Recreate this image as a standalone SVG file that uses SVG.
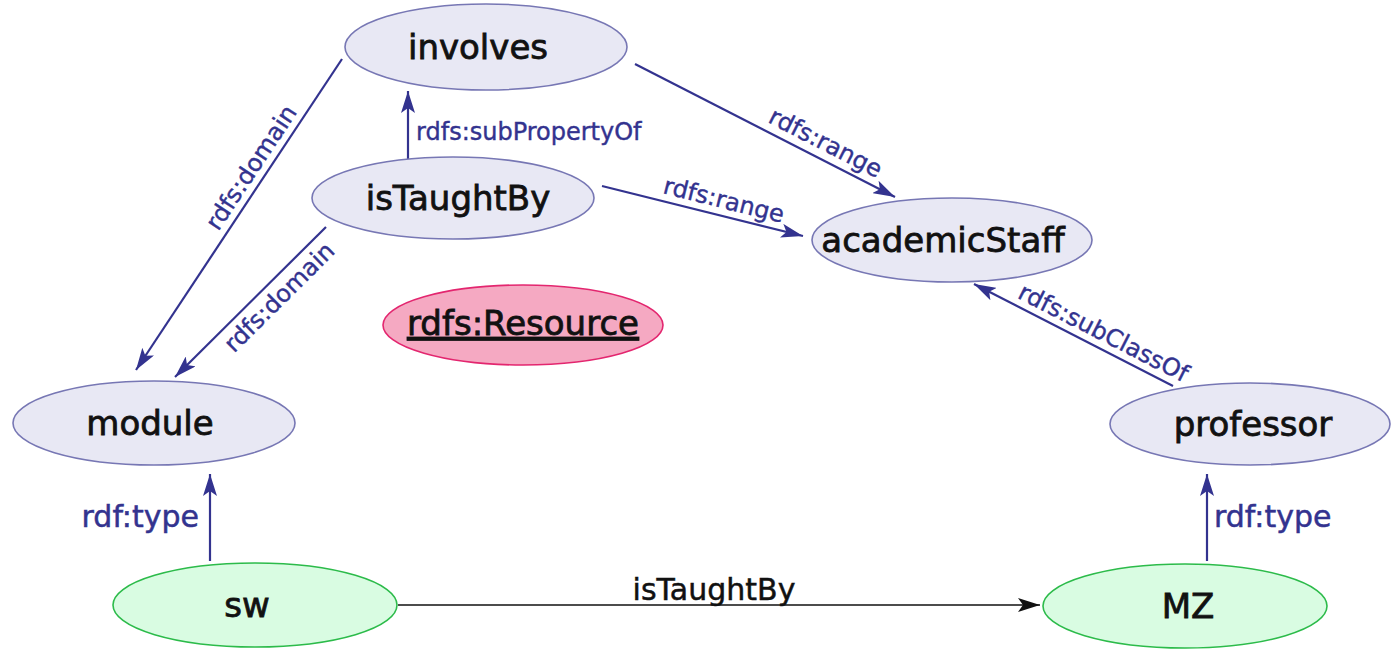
<svg xmlns="http://www.w3.org/2000/svg" width="1391" height="649" viewBox="0 0 1391 649">
  <style>
    .cls { fill: #e8e8f4; stroke: #7777b4; stroke-width: 1.6; }
    .inst { fill: #d9fce2; stroke: #2cbb4a; stroke-width: 1.6; }
    .res { fill: #f5a9c2; stroke: #e3266f; stroke-width: 1.6; }
    .nlabel { font-family: "DejaVu Sans", "Liberation Sans", sans-serif; font-size: 34px; fill: #111111; stroke: #111111; stroke-width: 0.8; text-anchor: middle; }
    .edge { stroke: #33338f; stroke-width: 2.2; fill: none; marker-end: url(#arrowBlue); }
    .edgeBlack { stroke: #111111; stroke-width: 1.6; fill: none; marker-end: url(#arrowBlack); }
    .elabel { font-family: "DejaVu Sans", "Liberation Sans", sans-serif; font-size: 24px; fill: #33338f; stroke: #33338f; stroke-width: 0.4; text-anchor: middle; }
    .tlabel { font-family: "DejaVu Sans", "Liberation Sans", sans-serif; font-size: 30px; fill: #33338f; stroke: #33338f; stroke-width: 0.5; }
  </style>
  <defs>
    <marker id="arrowBlue" viewBox="0 0 22 14" refX="22" refY="7" markerWidth="22" markerHeight="14" markerUnits="userSpaceOnUse" orient="auto">
      <path d="M0,0 L22,7 L0,14 L5,7 Z" fill="#33338f"/>
    </marker>
    <marker id="arrowBlack" viewBox="0 0 22 14" refX="22" refY="7" markerWidth="22" markerHeight="14" markerUnits="userSpaceOnUse" orient="auto">
      <path d="M0,0 L22,7 L0,14 L5,7 Z" fill="#111111"/>
    </marker>
  </defs>

  <!-- connectors -->
  <g id="connectors">
    <!-- involves -> module : rdfs:domain -->
    <line class="edge" x1="342" y1="59" x2="136" y2="370"/>
    <text class="elabel" transform="translate(258,172) rotate(-56.4)">rdfs:domain</text>
    <!-- isTaughtBy -> module : rdfs:domain -->
    <line class="edge" x1="326" y1="227" x2="175" y2="377"/>
    <text class="elabel" transform="translate(285,303) rotate(-44.8)">rdfs:domain</text>
    <!-- isTaughtBy -> involves : rdfs:subPropertyOf -->
    <line class="edge" x1="408" y1="159" x2="408" y2="91"/>
    <text class="elabel" x="416" y="140" style="text-anchor:start">rdfs:subPropertyOf</text>
    <!-- involves -> academicStaff : rdfs:range -->
    <line class="edge" x1="635" y1="64" x2="895" y2="197"/>
    <text class="elabel" transform="translate(822,150) rotate(27.1)">rdfs:range</text>
    <!-- isTaughtBy -> academicStaff : rdfs:range -->
    <line class="edge" x1="602" y1="186" x2="803" y2="236"/>
    <text class="elabel" transform="translate(722,208) rotate(14)">rdfs:range</text>
    <!-- professor -> academicStaff : rdfs:subClassOf -->
    <line class="edge" x1="1173" y1="386" x2="974" y2="284"/>
    <text class="elabel" transform="translate(1100,340) rotate(27)">rdfs:subClassOf</text>
    <!-- sw -> module : rdf:type -->
    <line class="edge" x1="210" y1="561" x2="210" y2="474"/>
    <text class="tlabel" x="199" y="527" style="text-anchor:end">rdf:type</text>
    <!-- MZ -> professor : rdf:type -->
    <line class="edge" x1="1207" y1="561" x2="1207" y2="474"/>
    <text class="tlabel" x="1214" y="527">rdf:type</text>
    <!-- sw -> MZ : isTaughtBy -->
    <line class="edgeBlack" x1="398" y1="605" x2="1040" y2="605"/>
    <text class="tlabel" x="714" y="600" style="text-anchor:middle; fill:#111111; stroke:#111111">isTaughtBy</text>
  </g>

  <!-- nodes -->
  <g id="involves">
    <ellipse class="cls" cx="486" cy="47" rx="141" ry="43"/>
    <text class="nlabel" x="478" y="59">involves</text>
  </g>
  <g id="isTaughtBy">
    <ellipse class="cls" cx="453" cy="198" rx="141" ry="41"/>
    <text class="nlabel" x="458" y="210">isTaughtBy</text>
  </g>
  <g id="academicStaff">
    <ellipse class="cls" cx="952" cy="240" rx="140" ry="42"/>
    <text class="nlabel" x="943" y="252">academicStaff</text>
  </g>
  <g id="rdfsResource">
    <ellipse class="res" cx="523" cy="325" rx="140" ry="40"/>
    <text class="nlabel" x="523" y="335" text-decoration="underline">rdfs:Resource</text>
  </g>
  <g id="module">
    <ellipse class="cls" cx="154" cy="423" rx="141" ry="42"/>
    <text class="nlabel" x="150" y="435">module</text>
  </g>
  <g id="professor">
    <ellipse class="cls" cx="1250" cy="424" rx="140" ry="41"/>
    <text class="nlabel" x="1253" y="436">professor</text>
  </g>
  <g id="sw">
    <ellipse class="inst" cx="255" cy="605" rx="142" ry="42"/>
    <text class="nlabel" x="247" y="617">sw</text>
  </g>
  <g id="MZ">
    <ellipse class="inst" cx="1185" cy="606" rx="142" ry="42"/>
    <text class="nlabel" x="1188" y="618">MZ</text>
  </g>
</svg>
